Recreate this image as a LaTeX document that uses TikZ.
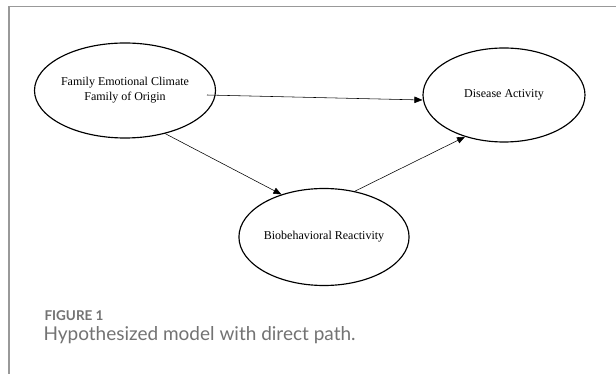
\documentclass[tikz,border=0pt]{standalone}
\usepackage{fontspec}
\setmainfont{Liberation Serif}
\newfontfamily\capfont{Lato}
\usetikzlibrary{shapes.geometric,arrows.meta}
\begin{document}
\begin{tikzpicture}[x=1pt,y=-1pt,
  oval/.style={draw,ellipse,line width=1.15pt,inner sep=0pt,font=\fontsize{12}{15}\selectfont,align=center},
  link/.style={-{Triangle[length=8pt,width=6.5pt]},line width=0.55pt},
  frameline/.style={draw=black!40,line width=1.2pt}]
\useasboundingbox (0,0) rectangle (616,374);
\fill[white] (0,0) rectangle (616,374);
\coordinate (ftl) at (9,6.8);
\coordinate (ftr) at (616,6.8);
\coordinate (fbl) at (9,374);
\draw[frameline] (ftr) -- (ftl) -- (fbl);
\node[oval,minimum width=164pt,minimum height=95pt] (fam) at (125,90.5) {Family Emotional Climate\\Family of Origin};
\node[oval,minimum width=162pt,minimum height=94pt] (dis) at (504,95) {Disease Activity};
\node[oval,minimum width=162pt,minimum height=97pt] (bio) at (324,237) {Biobehavioral Reactivity};
\coordinate (s1) at (207,95);
\draw[link] (s1) -- (dis.west |- 0,100);
\draw[link] (fam.-47) -- (bio.135);
\draw[link] (bio.56) -- (dis.-133);
\node[anchor=west,text=black!55,font=\capfont\bfseries\fontsize{13.5}{15}\selectfont] (fig) at (41,316) {FIGURE 1};
\node[anchor=west,text=black!55,font=\capfont\fontsize{19}{22}\selectfont] (cap) at (40,335) {Hypothesized model with direct path.};
\end{tikzpicture}
\end{document}
